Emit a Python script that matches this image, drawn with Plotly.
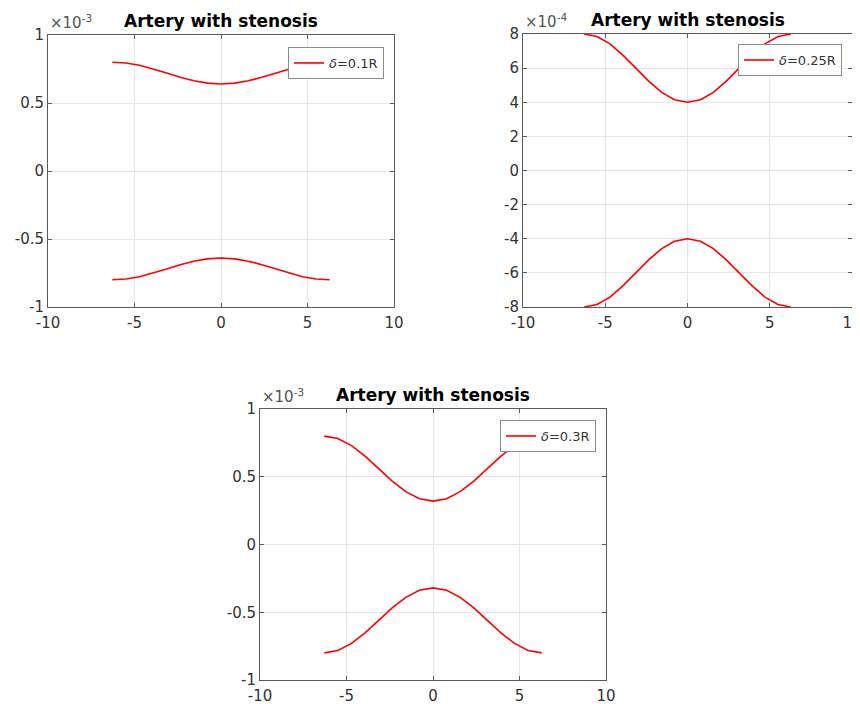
import plotly.graph_objects as go

# axial positions (same for all three panels)
z = [-6.28, -5.50, -4.71, -3.93, -3.14, -2.36, -1.57, -0.79, 0.0,
     0.79, 1.57, 2.36, 3.14, 3.93, 4.71, 5.50, 6.28]

# upper wall radius for each stenosis height (lower wall is its mirror)
wall_01 = [0.80e-3, 0.794e-3, 0.777e-3, 0.751e-3, 0.72e-3, 0.689e-3, 0.663e-3, 0.646e-3, 0.64e-3,
           0.646e-3, 0.663e-3, 0.689e-3, 0.72e-3, 0.751e-3, 0.777e-3, 0.794e-3, 0.80e-3]
wall_025 = [8.0e-4, 7.85e-4, 7.42e-4, 6.76e-4, 6.0e-4, 5.24e-4, 4.58e-4, 4.15e-4, 4.0e-4,
            4.15e-4, 4.58e-4, 5.24e-4, 6.0e-4, 6.76e-4, 7.42e-4, 7.85e-4, 8.0e-4]
wall_03 = [0.80e-3, 0.782e-3, 0.730e-3, 0.652e-3, 0.56e-3, 0.468e-3, 0.390e-3, 0.338e-3, 0.32e-3,
           0.338e-3, 0.390e-3, 0.468e-3, 0.56e-3, 0.652e-3, 0.730e-3, 0.782e-3, 0.80e-3]
wall_01_low = [-v for v in wall_01]
wall_025_low = [-v for v in wall_025]
wall_03_low = [-v for v in wall_03]

labels = ["<i>δ</i>=0.1R", "<i>δ</i>=0.25R", "<i>δ</i>=0.3R"]
title_text = "Artery with stenosis"

x_ticks = [-10, -5, 0, 5, 10]
x_ticktext = ["-10", "-5", "0", "5", "10"]
y_ticks_e3 = [-1e-3, -0.5e-3, 0, 0.5e-3, 1e-3]
y_ticktext_e3 = ["-1", "-0.5", "0", "0.5", "1"]
y_ticks_e4 = [-8e-4, -6e-4, -4e-4, -2e-4, 0, 2e-4, 4e-4, 6e-4, 8e-4]
y_ticktext_e4 = ["-8", "-6", "-4", "-2", "0", "2", "4", "6", "8"]

OFF = 8                      # page body margin in the browser
W, H = 860 - OFF, 704 - OFF  # figure fills the rest of the window
FONT = "DejaVu Sans"
AX = "#5a5a5a"
GRID = "#e6e6e6"
RED = "#ff0000"
TXT = "#333333"

# panel boxes in window pixels: left, right, top, bottom
boxes = [(48, 394, 35, 307), (523, 852, 34, 307), (260, 606, 409, 680)]

def px(v):
    return (v - OFF) / W

def py(v):
    return 1 - (v - OFF) / H

def dom(b):
    l, r, t, bt = b
    return [px(l), px(r)], [py(bt), py(t)]

fig = go.Figure()
panels = [
    (wall_01, wall_01_low, labels[0], "legend"),
    (wall_025, wall_025_low, labels[1], "legend2"),
    (wall_03, wall_03_low, labels[2], "legend3"),
]
for i, (up, lo, lab, leg) in enumerate(panels):
    xa = "x" if i == 0 else f"x{i+1}"
    ya = "y" if i == 0 else f"y{i+1}"
    fig.add_trace(go.Scatter(x=z, y=up, mode="lines", name=lab, line=dict(color=RED, width=1.6),
                             xaxis=xa, yaxis=ya, legend=leg, showlegend=True))
    fig.add_trace(go.Scatter(x=z, y=lo, mode="lines", name=lab, line=dict(color=RED, width=1.6),
                             xaxis=xa, yaxis=ya, legend=leg, showlegend=False))

layout = dict(width=W, height=H, margin=dict(l=0, r=0, t=0, b=0),
              plot_bgcolor="white", paper_bgcolor="white",
              font=dict(family=FONT, size=15, color=TXT))

yspecs = [(y_ticks_e3, y_ticktext_e3, [-1e-3, 1e-3], "-3"),
          (y_ticks_e4, y_ticktext_e4, [-8e-4, 8e-4], "-4"),
          (y_ticks_e3, y_ticktext_e3, [-1e-3, 1e-3], "-3")]
annotations = []
for i, b in enumerate(boxes):
    xd, yd = dom(b)
    sfx = "" if i == 0 else str(i + 1)
    common = dict(showline=True, linecolor=AX, linewidth=1, mirror="ticks",
                  ticks="inside", ticklen=4, tickcolor=AX, showgrid=True, gridcolor=GRID,
                  gridwidth=1, zeroline=False, automargin=False, ticklabeloverflow="allow",
                  tickfont=dict(family=FONT, size=15, color=TXT))
    layout["xaxis" + sfx] = dict(domain=xd, range=[-10, 10], tickvals=x_ticks, ticktext=x_ticktext,
                                 anchor="y" + sfx, ticklabelstandoff=2, **common)
    tv, tt, rg, ex = yspecs[i]
    layout["yaxis" + sfx] = dict(domain=yd, range=rg, tickvals=tv, ticktext=tt,
                                 anchor="x" + sfx, **common)
    l, r, t, bt = b
    annotations.append(dict(text=f"<b>{title_text}</b>", x=px((l + r) / 2), y=py(t - 14),
                            xref="paper", yref="paper", xanchor="center", yanchor="middle",
                            showarrow=False, font=dict(family=FONT, size=17, color="black")))
    annotations.append(dict(text=f"×10<sup>{ex}</sup>", x=px(l), y=py(t - 1),
                            xref="paper", yref="paper", xanchor="left", yanchor="bottom",
                            showarrow=False, font=dict(family=FONT, size=15, color="#555555")))
layout["annotations"] = annotations

leg_pos = [(384, 47), (842, 44), (596, 420)]
for i, (lx, ly) in enumerate(leg_pos):
    key = "legend" if i == 0 else f"legend{i+1}"
    layout[key] = dict(x=px(lx), y=py(ly), xanchor="right", yanchor="top", xref="paper", yref="paper",
                       bgcolor="white", bordercolor="#8c8c8c", borderwidth=1,
                       font=dict(family=FONT, size=13, color=TXT),
                       itemwidth=30, tracegroupgap=0)
fig.update_layout(**layout)
fig.write_html("out.html")
